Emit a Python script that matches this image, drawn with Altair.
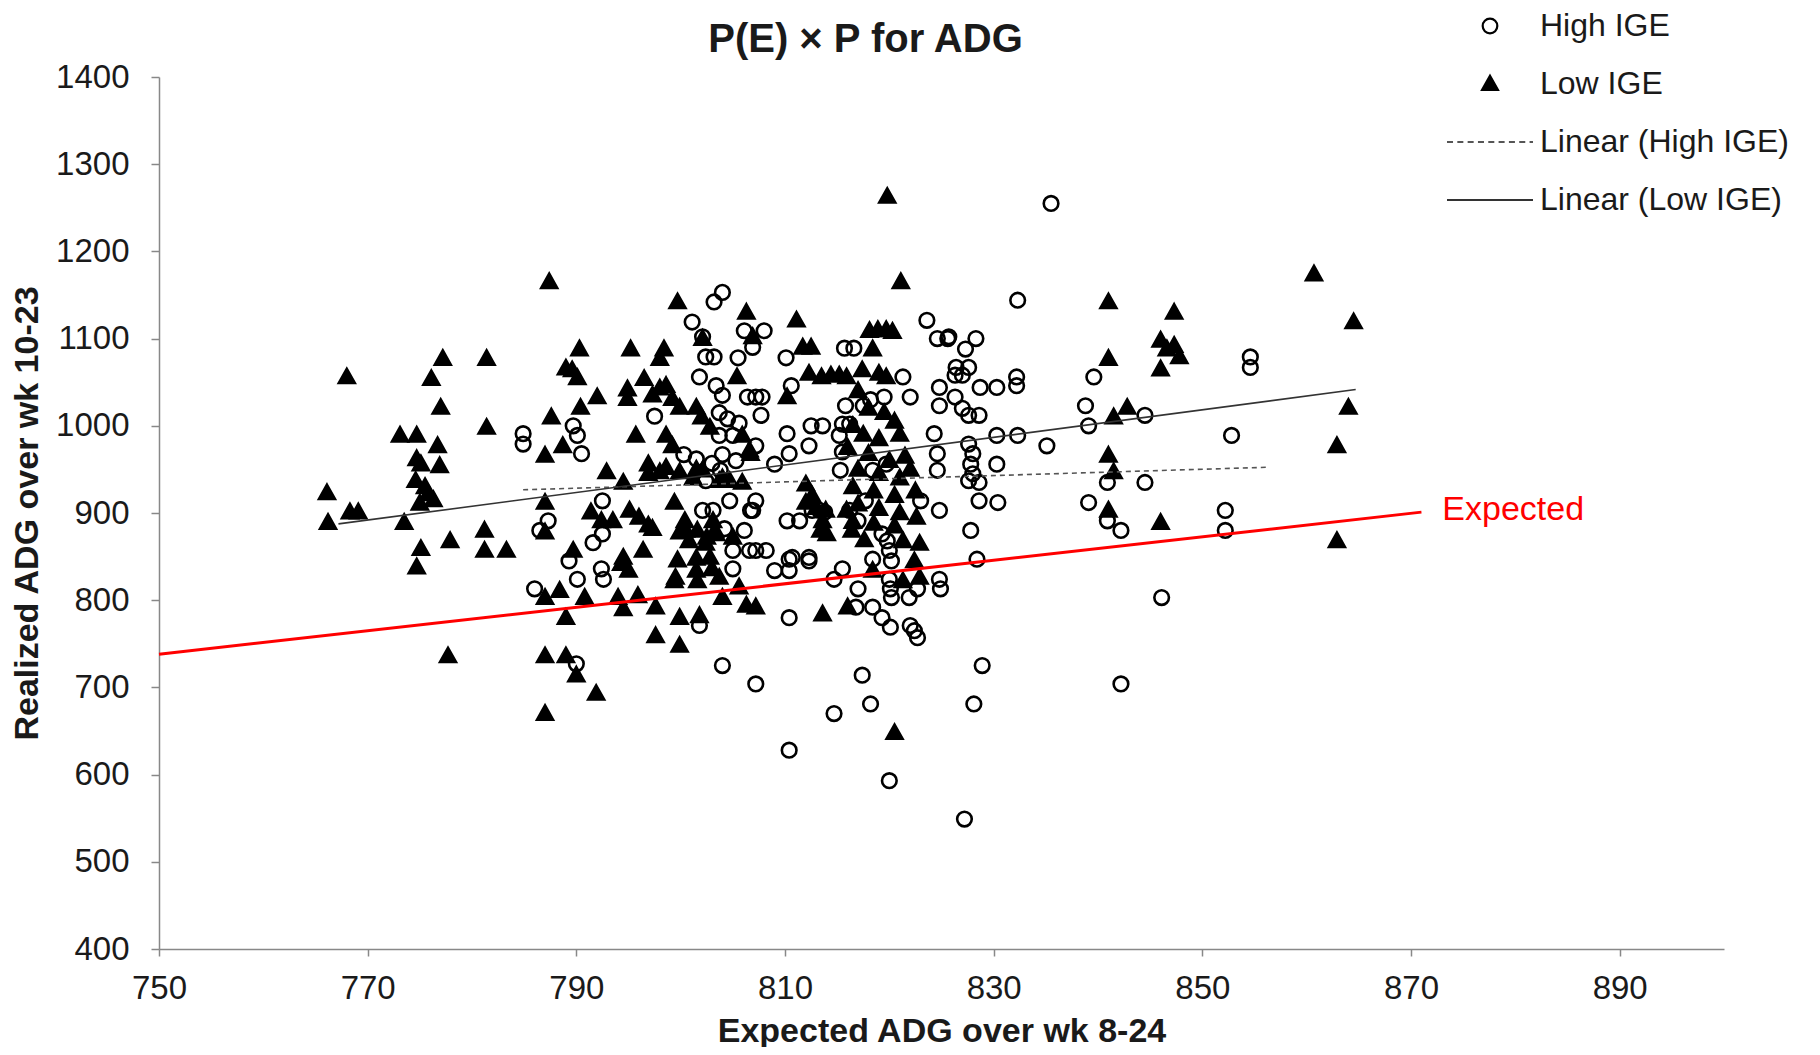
import altair as alt
import pandas as pd

# ---------------- data ----------------
low_pts = [
    (766.1, 923), (766.2, 889), (768.0, 1056), (768.3, 901), (769.1, 901), (773.1, 989), (773.5, 889),
    (774.7, 989), (774.7, 962), (775.1, 956), (776.9, 954), (774.6, 937), (775.5, 930), (775.8, 922),
    (776.3, 915), (775.0, 911), (774.7, 838), (775.1, 859), (776.1, 1054), (776.7, 977), (777.0, 1021),
    (777.2, 1077), (777.7, 736), (777.9, 868), (781.4, 1077), (781.4, 998), (781.2, 880), (781.2, 857),
    (783.3, 857), (787.4, 1165), (787.6, 1010), (787.0, 966), (787.0, 912), (787.0, 878), (787.0, 803),
    (787.0, 736), (787.0, 670), (788.4, 811), (789.0, 1066), (789.6, 1064), (790.1, 1055), (789.0, 736),
    (789.0, 780), (790.0, 714), (790.3, 1088), (790.4, 1021), (790.8, 803), (791.9, 693), (792.0, 1033),
    (792.9, 947), (791.4, 901), (789.7, 857), (788.7, 977), (793.5, 891), (794.5, 935), (794.5, 849),
    (795.0, 834), (794.0, 803), (795.9, 805), (794.5, 790), (795.2, 1088), (794.9, 1042), (794.9, 1031),
    (795.7, 989), (796.5, 1054), (796.4, 857), (796.0, 895), (797.3, 882), (796.9, 956), (797.6, 792),
    (797.6, 759), (797.3, 1035), (798.0, 1077), (798.4, 1088), (798.0, 1043), (798.6, 1046), (799.2, 1031),
    (798.6, 989), (799.2, 977), (798.0, 947), (799.4, 912), (799.7, 1142), (799.7, 846), (799.5, 826),
    (799.9, 780), (799.9, 748), (799.9, 1021), (800.4, 891), (800.5, 880), (801.2, 940), (801.5, 1021),
    (802.0, 1010), (802.8, 998), (802.1, 1100), (801.5, 848), (801.8, 782), (802.5, 872), (803.3, 880),
    (802.8, 849), (803.0, 836), (803.7, 826), (804.0, 803), (804.0, 940), (805.4, 1056), (805.6, 815),
    (805.9, 989), (806.7, 968), (805.9, 935), (806.3, 1130), (806.3, 794), (807.2, 792), (806.6, 972),
    (806.9, 1102), (810.2, 1033), (811.1, 1121), (811.7, 1090), (812.5, 1090), (812.3, 1060), (813.5, 1056),
    (814.4, 1058), (815.2, 1058), (815.9, 1056), (812.0, 933), (812.6, 920), (813.0, 906), (813.4, 880),
    (814.0, 876), (813.6, 784), (813.6, 891), (816.0, 792), (816.4, 880), (817.4, 1064), (818.4, 1088),
    (818.1, 1109), (818.9, 1110), (819.7, 1110), (820.3, 1108), (819.0, 1060), (819.7, 1056), (817.0, 1040),
    (818.0, 1020), (819.5, 1015), (820.5, 1005), (816.5, 1000), (817.5, 990), (819.0, 985), (821.0, 990),
    (816.0, 975), (818.0, 968), (820.0, 960), (821.5, 965), (817.0, 950), (819.0, 945), (821.0, 940),
    (822.0, 950), (816.5, 930), (818.5, 925), (820.5, 920), (822.5, 925), (817.0, 910), (819.0, 905),
    (821.0, 900), (822.6, 895), (816.5, 890), (818.5, 888), (820.5, 885), (817.6, 869), (821.3, 868),
    (822.9, 865), (822.4, 845), (821.3, 822), (819.8, 1263), (821.1, 1165), (820.5, 648), (815.9, 903),
    (822.9, 826), (818.4, 834), (799.9, 878), (800.8, 868), (801.6, 880), (803.1, 891), (803.4, 876),
    (802.4, 865), (799.4, 822), (801.5, 834), (801.6, 822), (792.4, 891), (795.1, 903), (796.9, 886),
    (794.3, 842), (796.9, 945), (798.6, 952), (799.9, 947), (801.5, 950), (802.1, 949), (803.7, 937),
    (804.7, 937), (805.0, 872), (813.9, 903), (812.0, 912),
    (841.0, 1142), (841.0, 1077), (842.8, 1021), (841.5, 1010), (841.0, 966), (841.5, 947), (841.0, 903),
    (846.0, 1098), (846.6, 1088), (847.3, 1092), (847.8, 1079), (846.0, 1065), (847.3, 1130), (846.0, 889),
    (860.7, 1174), (864.5, 1119), (864.0, 1021), (862.9, 977), (862.9, 868),
]
high_pts = [
    (784.9, 991), (784.9, 979), (786.0, 813), (786.5, 880), (787.3, 891), (789.3, 845), (789.7, 1000),
    (790.1, 989), (790.5, 968), (790.1, 824), (790.0, 727), (791.6, 866), (792.5, 876), (792.4, 836),
    (792.6, 824), (792.5, 914), (797.5, 1011), (801.1, 1119), (801.8, 1056), (801.8, 771), (802.1, 1102),
    (802.4, 1079), (803.2, 1079), (803.2, 1142), (804.0, 1153), (804.0, 725), (803.4, 1046), (804.0, 1035),
    (803.7, 1015), (804.5, 1008), (805.6, 1003), (803.7, 989), (805.0, 989), (800.3, 967), (801.5, 962),
    (803.0, 957), (804.0, 967), (805.3, 960), (803.8, 949), (802.4, 937), (804.7, 914), (802.1, 903),
    (803.1, 903), (806.7, 903), (804.2, 882), (806.1, 880), (805.0, 857), (806.6, 857), (805.0, 836),
    (805.5, 1078), (806.1, 1109), (806.9, 1090), (806.4, 1033), (807.2, 1033), (807.8, 1033), (807.7, 1012),
    (807.2, 977), (809.0, 956), (807.2, 914), (806.9, 903), (808.0, 1109), (807.2, 857), (808.2, 857),
    (809.0, 834), (810.4, 834), (810.4, 847), (812.3, 845), (810.2, 891), (811.4, 891), (810.1, 1078),
    (810.6, 1046), (810.2, 991), (810.4, 968), (812.3, 977), (812.5, 1000), (813.6, 1000), (813.3, 903),
    (812.6, 903), (813.8, 901), (810.4, 780), (810.4, 628), (807.2, 704), (810.7, 849), (812.3, 849),
    (814.7, 670), (815.5, 836), (814.7, 824), (815.7, 1089), (816.6, 1089), (815.8, 1023), (817.5, 1023),
    (818.2, 1030), (819.5, 1033), (822.0, 1033), (821.3, 1056), (815.5, 1002), (816.2, 1002), (815.2, 989),
    (815.5, 970), (815.3, 949), (818.4, 949), (819.7, 956), (817.7, 914), (816.2, 903), (817.0, 891),
    (817.0, 813), (818.4, 847), (816.8, 792), (818.4, 792), (819.3, 780), (820.1, 769), (819.3, 876),
    (819.8, 868), (820.0, 857), (820.2, 845), (820.0, 824), (820.1, 813), (820.2, 803), (817.4, 714),
    (818.2, 681), (820.0, 593), (821.9, 803), (822.7, 813), (822.0, 771), (822.7, 757), (822.4, 765),
    (823.6, 1121), (824.6, 1100), (825.6, 1100), (824.8, 1044), (824.8, 1023), (824.3, 991), (824.6, 968),
    (824.6, 949), (823.0, 914), (824.8, 903), (824.8, 824), (824.9, 813), (825.7, 1102), (826.4, 1067),
    (826.3, 1058), (827.0, 1058), (827.6, 1067), (828.3, 1100), (827.3, 1088), (828.7, 1044), (830.3, 1044),
    (832.2, 1056), (832.2, 1046), (826.3, 1033), (827.0, 1020), (827.6, 1012), (828.6, 1012), (827.6, 979),
    (828.0, 968), (827.8, 956), (828.0, 945), (827.6, 937), (828.6, 935), (830.3, 989), (832.3, 989),
    (830.3, 956), (828.6, 914), (830.4, 912), (827.8, 880), (828.4, 847), (828.9, 725), (828.1, 681),
    (827.2, 549), (832.3, 1144), (835.5, 1255), (835.1, 977), (838.8, 1023), (839.1, 1000), (839.6, 1056),
    (844.5, 1012), (840.9, 935), (844.5, 935), (839.1, 912), (840.9, 891), (842.2, 880), (842.2, 704),
    (846.1, 803), (852.8, 989), (852.2, 903), (852.2, 880), (854.6, 1079), (854.6, 1067),
]

low_x = [p[0] for p in low_pts]
low_y = [p[1] for p in low_pts]
high_x = [p[0] for p in high_pts]
high_y = [p[1] for p in high_pts]

expected_x = [750, 871]
expected_y = [738, 901]
trend_low_x = [767.2, 864.7]
trend_low_y = [887.5, 1041.6]
trend_high_x = [784.9, 856.4]
trend_high_y = [926.6, 952.5]
label_x = [873.0]
label_y = [903.4]
label_text = ["Expected"]

groups = ["High IGE", "Low IGE", "Linear (High IGE)", "Linear (Low IGE)"]
x_ticks = list(range(750, 891, 20))
y_ticks = list(range(400, 1401, 100))

# ---------------- tables ----------------
pts = pd.concat([
    pd.DataFrame({"x": low_x, "y": low_y, "group": "Low IGE"}),
    pd.DataFrame({"x": high_x, "y": high_y, "group": "High IGE"}),
], ignore_index=True)
pts["order"] = range(len(pts))
exp_df = pd.DataFrame({"x": expected_x, "y": expected_y})
tl_df = pd.DataFrame({"x": trend_low_x, "y": trend_low_y})
th_df = pd.DataFrame({"x": trend_high_x, "y": trend_high_y})
lab_df = pd.DataFrame({"x": label_x, "y": label_y, "t": label_text})

FONT = "Liberation Sans"
S = 6561          # symbol size -> sqrt = 81px box (half = 40.5px)
K = 43.0 / 40.5   # path units so the legend lines are 86px long


def f(v):
    return f"{v * K:.4f}"


circle_path = f"M{f(0.17)},0A{f(0.17)},{f(0.17)},0,1,1,{f(-0.17)},0A{f(0.17)},{f(0.17)},0,1,1,{f(0.17)},0Z"
tri_path = f"M0,{f(-0.19)}L{f(0.185)},{f(0.14)}L{f(-0.185)},{f(0.14)}Z"
dash_starts = [-1.0, -0.76, -0.52, -0.28, -0.04, 0.2, 0.44, 0.68, 0.92]
dash_path = "".join(f"M{f(s)},0H{f(min(s + 0.14, 1.0))}" for s in dash_starts)
solid_path = f"M{f(-1)},0H{f(1)}"

xs = alt.Scale(domain=[750, 900], nice=False, zero=False)
ys = alt.Scale(domain=[400, 1400], nice=False, zero=False)

x_axis = alt.Axis(values=x_ticks, format="d", tickSize=7, labelPadding=16, labelFlush=False,
                  title="Expected ADG over wk 8-24", titleY=82, titleBaseline="middle")
y_axis = alt.Axis(values=y_ticks, format="d", tickSize=8, labelPadding=22,
                  title="Realized ADG over wk 10-23", titleX=-132, titleY=436,
                  titleAngle=-90, titleAlign="center", titleBaseline="middle")

X = alt.X("x:Q", scale=xs, axis=x_axis)
Y = alt.Y("y:Q", scale=ys, axis=y_axis)

legend = alt.Legend(
    title=None, orient="none", legendX=1289, legendY=-93, direction="vertical",
    symbolSize=S, symbolStrokeWidth=2.2, labelFont=FONT, labelFontSize=32, labelLimit=500,
    labelColor="#1a1a1a", labelOffset=8, rowPadding=0, padding=0,
)

points = alt.Chart(pts).mark_point(size=S, strokeWidth=2.6, opacity=1).encode(
    x=X, y=Y,
    shape=alt.Shape("group:N", scale=alt.Scale(domain=groups,
                    range=[circle_path, tri_path, dash_path, solid_path]), legend=legend),
    fill=alt.Fill("group:N", scale=alt.Scale(domain=groups,
                  range=["transparent", "black", "transparent", "transparent"]), legend=legend),
    stroke=alt.Stroke("group:N", scale=alt.Scale(domain=groups,
                      range=["black", "black", "#555555", "#333333"]), legend=legend),
    order=alt.Order("order:Q"),
)

trend_high = alt.Chart(th_df).mark_line(color="#555555", strokeWidth=1.6, strokeDash=[5, 4]).encode(x=X, y=Y)
trend_low = alt.Chart(tl_df).mark_line(color="#333333", strokeWidth=1.6).encode(x=X, y=Y)
expected = alt.Chart(exp_df).mark_line(color="#ff0000", strokeWidth=3).encode(x=X, y=Y)
exp_label = alt.Chart(lab_df).mark_text(align="left", baseline="middle", color="#ff0000",
                                        font=FONT, fontSize=34).encode(x=X, y=Y, text="t:N")

chart = alt.layer(points, trend_high, trend_low, expected, exp_label).properties(
    width=1565, height=872,
    padding={"left": 151, "top": 69, "right": 88, "bottom": 98},
    autosize=alt.AutoSizeParams(type="none"),
    title=alt.TitleParams(text="P(E) × P for ADG", font=FONT, fontSize=40, fontWeight="bold",
                          color="#1a1a1a", anchor="middle", frame="group", dx=-76, dy=116, offset=0,
                          baseline="bottom"),
).configure_view(stroke=None).configure_axis(
    grid=False, domainColor="#888888", domainWidth=1.5, tickColor="#888888", tickWidth=1.5,
    labelFont=FONT, labelFontSize=33, labelColor="#1a1a1a",
    titleFont=FONT, titleFontSize=34, titleFontWeight="bold", titleColor="#1a1a1a",
)

chart.save("out.html", embed_options={"renderer": "svg", "actions": False})
